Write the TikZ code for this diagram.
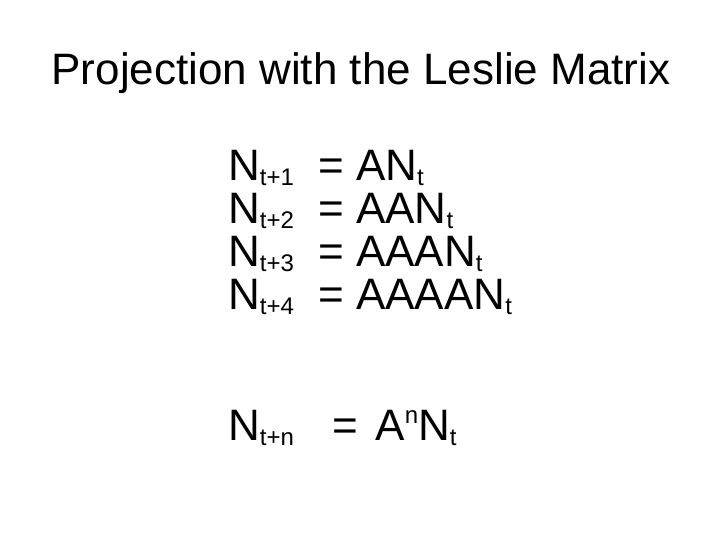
\documentclass[tikz,border=0pt]{standalone}
\usepackage{fontspec}
\setmainfont{Liberation Sans}
\newcommand{\sbs}[1]{\raisebox{-5pt}{\fontsize{24}{24}\selectfont #1}}
\newcommand{\sps}[1]{\raisebox{17pt}{\fontsize{24}{24}\selectfont #1}}
\begin{document}
\begin{tikzpicture}[x=1pt,y=1pt,txt/.style={anchor=base west,inner sep=0pt,font=\fontsize{44}{44}\selectfont}]
\useasboundingbox (0,0) rectangle (720,540);
\node[anchor=base,inner sep=0pt,font=\fontsize{44}{44}\selectfont] (title) at (361,455) {Projection with the Leslie Matrix};
\node[txt] (l1) at (228,359) {N\sbs{t+1}};
\node[txt] (l2) at (228,316) {N\sbs{t+2}};
\node[txt] (l3) at (228,273) {N\sbs{t+3}};
\node[txt] (l4) at (228,230) {N\sbs{t+4}};
\node[txt] (r1) at (318,359) {= AN\sbs{t}};
\node[txt] (r2) at (318,316) {= AAN\sbs{t}};
\node[txt] (r3) at (318,273) {= AAAN\sbs{t}};
\node[txt] (r4) at (318,230) {= AAAAN\sbs{t}};
\node[txt] (ln) at (228,99) {N\sbs{t+n}};
\node[txt] (rn) at (332,99) {=\hspace{0.4em}A\sps{n}N\sbs{t}};
\end{tikzpicture}
\end{document}
